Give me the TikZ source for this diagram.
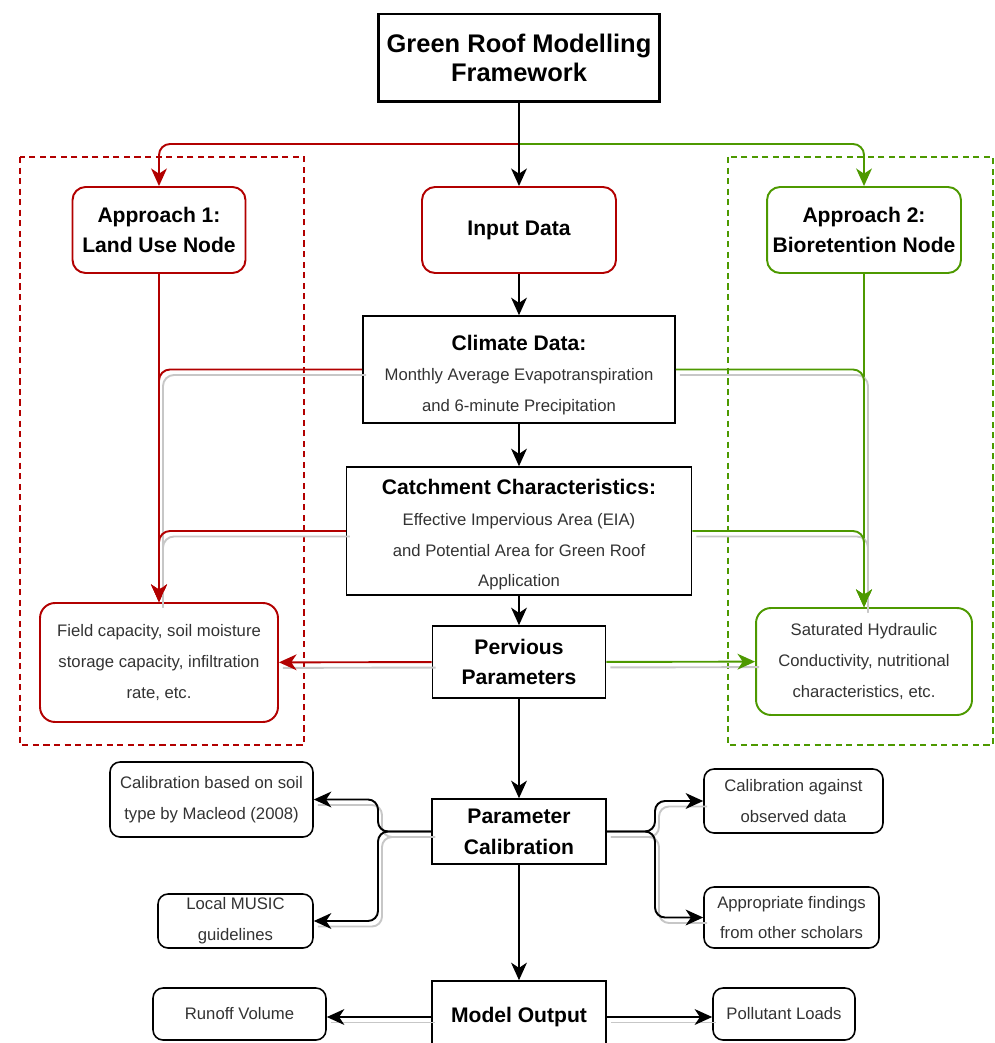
\documentclass[tikz,border=0pt]{standalone}
\usepackage{fontspec}
\setmainfont{Liberation Sans}
\usetikzlibrary{arrows.meta,calc}
\definecolor{roofred}{HTML}{B20000}
\definecolor{roofgreen}{HTML}{4D9900}
\definecolor{bodygray}{HTML}{333333}
\newcommand{\headfont}{\bfseries\fontsize{12}{17.5}\selectfont}

\begin{document}
\begin{tikzpicture}[x=0.02cm, y=-0.02cm,
    titlebox/.style={draw, line width=1.7pt, fill=white, align=center, inner sep=0pt,
        font=\bfseries\fontsize{14.5}{16.5}\selectfont, minimum width=5.64cm, minimum height=1.76cm},
    stepbox/.style={draw, line width=0.9pt, fill=white, align=center, inner sep=0pt,
        text=bodygray, font=\fontsize{9.5}{17.5}\selectfont},
    headbox/.style={stepbox, text=black, font=\headfont},
    approachred/.style={headbox, draw=roofred, line width=1.1pt, rounded corners=0.26cm},
    approachgreen/.style={approachred, draw=roofgreen},
    notered/.style={stepbox, draw=roofred, line width=1.1pt, rounded corners=0.3cm},
    notegreen/.style={notered, draw=roofgreen},
    notebox/.style={stepbox, rounded corners=0.2cm},
    flow/.style={-{Stealth[length=10pt,width=9pt,inset=3pt]}, draw=black, line width=1.1pt},
    redflow/.style={flow, draw=roofred, rounded corners=0.22cm},
    greenflow/.style={flow, draw=roofgreen, rounded corners=0.22cm},
    ghost/.style={preaction={draw=black!22, line width=1.1pt, -, transform canvas={shift={(0.08cm,-0.11cm)}}}},
    zone/.style={dash pattern=on 3.5pt off 2.5pt, line width=1.1pt},
  ]
  \useasboundingbox (0,0) rectangle (994,1043);

  % the two approach zones
  \draw[zone, draw=roofred] (20,157) rectangle (304,745);
  \draw[zone, draw=roofgreen] (728,157) rectangle (993,745);

  \node at (519,58) (title) [titlebox] {Green Roof Modelling\\Framework};
  \node at (159,230) (landuse) [approachred, minimum width=3.46cm, minimum height=1.72cm] {Approach 1:\\Land Use Node};
  \node at (519,230) (input) [approachred, minimum width=3.88cm, minimum height=1.72cm] {Input Data};
  \node at (864,230) (bioret) [approachgreen, minimum width=3.88cm, minimum height=1.72cm] {Approach 2:\\Bioretention Node};

  \node at (519,369.5) (climate) [stepbox, minimum width=6.24cm, minimum height=2.14cm]
    {{\headfont\color{black}\rule{0pt}{15pt}Climate Data:}\\Monthly Average Evapotranspiration\\and 6-minute Precipitation};
  \node at (519,531) (catch) [stepbox, minimum width=6.9cm, minimum height=2.56cm]
    {{\headfont\color{black}\rule{0pt}{13pt}Catchment Characteristics:}\\Effective Impervious Area (EIA)\\and Potential Area for Green Roof\\Application};
  \node at (519,662) (perv) [headbox, minimum width=3.46cm, minimum height=1.44cm] {Pervious\\Parameters};
  \node at (159,662.5) (field) [notered, minimum width=4.76cm, minimum height=2.38cm]
    {Field capacity, soil moisture\\storage capacity, infiltration\\rate, etc.};
  \node at (864,661.5) (satur) [notegreen, minimum width=4.32cm, minimum height=2.14cm]
    {Saturated Hydraulic\\Conductivity, nutritional\\characteristics, etc.};

  \node at (519,831.5) (calib) [headbox, minimum width=3.48cm, minimum height=1.3cm] {Parameter\\Calibration};
  \node at (211.5,799.5) (soil) [notebox, minimum width=4.06cm, minimum height=1.5cm] {Calibration based on soil\\type by Macleod (2008)};
  \node at (235.5,921) (music) [notebox, minimum width=3.1cm, minimum height=1.08cm] {Local MUSIC\\guidelines};
  \node at (793.5,801) (observed) [notebox, minimum width=3.58cm, minimum height=1.28cm] {Calibration against\\observed data};
  \node at (791.5,917.5) (scholars) [notebox, minimum width=3.5cm, minimum height=1.22cm] {Appropriate findings\\from other scholars};

  \node at (519,1017) (output) [headbox, minimum width=3.48cm, minimum height=1.44cm] {Model Output};
  \node at (239.5,1014) (runoff) [notebox, minimum width=3.46cm, minimum height=1.04cm] {Runoff Volume};
  \node at (784,1014) (pollut) [notebox, minimum width=2.84cm, minimum height=1.04cm] {Pollutant Loads};

  \coordinate (split) at (519,144);
  \coordinate (lbend) at (378,832);
  \coordinate (rbend) at (655,832);

  % branches to the approaches
  \draw[redflow] (split) -| (landuse.north);
  \draw[greenflow] (split) -| (bioret.north);
  \draw[flow] (title) -- (input);
  \draw[flow] (input) -- (climate);
  \draw[flow] (climate) -- (catch);
  \draw[flow] (catch) -- (perv);
  \draw[flow] (perv) -- (calib);
  \draw[flow] (calib) -- (output);

  \draw[redflow] (landuse) -- (field);
  \draw[redflow, ghost] (climate.west) -| (field.north);
  \draw[redflow, ghost] (catch.west) -| (field.north);
  \draw[redflow, ghost] (perv) -- (field);
  \draw[greenflow] (bioret) -- (satur);
  \draw[greenflow, ghost] (climate.east) -| (satur.north);
  \draw[greenflow, ghost] (catch.east) -| (satur.north);
  \draw[greenflow, ghost] (perv) -- (satur);

  % calibration options
  \draw[flow, ghost, rounded corners=0.2cm] (calib.west) -- (calib.west -| lbend) -- (lbend |- soil.east) -- (soil.east);
  \draw[flow, ghost, rounded corners=0.2cm] (calib.west) -- (calib.west -| lbend) -- (lbend |- music.east) -- (music.east);
  \draw[flow, ghost, rounded corners=0.2cm] (calib.east) -- (calib.east -| rbend) -- (rbend |- observed.west) -- (observed.west);
  \draw[flow, ghost, rounded corners=0.2cm] (calib.east) -- (calib.east -| rbend) -- (rbend |- scholars.west) -- (scholars.west);

  \draw[flow, ghost] (output.west) -- (output.west -| runoff.east);
  \draw[flow, ghost] (output.east) -- (output.east -| pollut.west);
\end{tikzpicture}
\end{document}
